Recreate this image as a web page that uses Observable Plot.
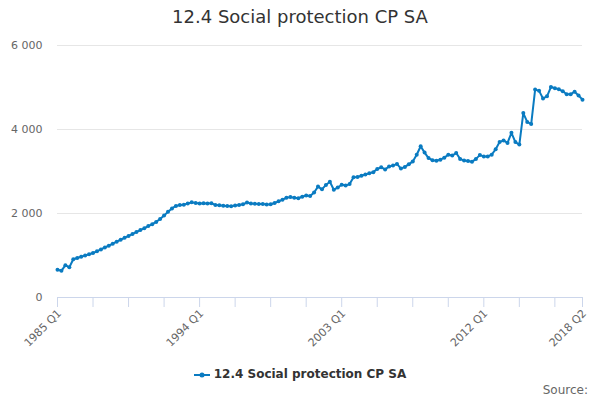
<!DOCTYPE html>
<html>
<head>
<meta charset="utf-8">
<script src="https://cdn.jsdelivr.net/npm/d3@7"></script>
<script src="https://cdn.jsdelivr.net/npm/@observablehq/plot@0.6"></script>
<style>
  html, body { margin: 0; padding: 0; background: #fff; }
  #wrap { position: relative; width: 600px; height: 400px; font-family: "DejaVu Sans", sans-serif; overflow: hidden; }
  #title { position: absolute; top: 6px; left: 0; width: 600px; text-align: center; font-size: 18px; color: #333; }
  #chart { position: absolute; top: 30px; left: 0; }
  #legend { position: absolute; top: 367px; left: 0; width: 600px; text-align: center; font-size: 12px; font-weight: bold; color: #333; }
  #legend svg { vertical-align: middle; margin-right: 4px; }
  #source { position: absolute; top: 383px; right: 12px; font-size: 12px; color: #666; }
</style>
</head>
<body>
<div id="wrap">
  <div id="title"></div>
  <div id="chart"></div>
  <div id="legend"></div>
  <div id="source">Source:</div>
</div>
<script>
const seriesName = "12.4 Social protection CP SA";
const startYear = 1985;
const values = [
  660, 635, 770, 720, 910, 940, 970, 1000, 1030, 1060,
  1100, 1145, 1190, 1235, 1280, 1330, 1375, 1420, 1465, 1510,
  1560, 1605, 1650, 1700, 1745, 1800, 1870, 1950, 2040, 2120,
  2180, 2200, 2210, 2240, 2265, 2250, 2240, 2245, 2240, 2245,
  2200, 2195, 2185, 2180, 2175, 2190, 2200, 2220, 2260, 2240,
  2230, 2225, 2225, 2215, 2220, 2250, 2290, 2330, 2375, 2390,
  2375, 2365, 2400, 2430, 2415, 2500, 2640, 2575, 2680, 2755,
  2565, 2620, 2685, 2665, 2700, 2865, 2870, 2900, 2930, 2960,
  2985, 3060, 3100, 3050, 3120, 3140, 3180, 3070, 3110, 3170,
  3240, 3400, 3600, 3450, 3320, 3270, 3255, 3280, 3330, 3400,
  3380, 3440, 3300, 3260, 3250, 3230, 3300, 3390, 3360, 3360,
  3400, 3530, 3700, 3740, 3680, 3920, 3700, 3640, 4390, 4180,
  4130, 4950, 4920, 4740, 4790, 5010, 4985, 4960, 4910, 4840,
  4840, 4900, 4810, 4710
];
const quarters = values.map((_, i) => `${startYear + Math.floor(i / 4)} Q${(i % 4) + 1}`);
const xTickLabels = ["1985 Q1", "1994 Q1", "2003 Q1", "2012 Q1", "2018 Q2"];
const yTicks = [0, 2000, 4000, 6000];

const color = "#0a7bc1";
const data = values.map((v, i) => ({ i, q: quarters[i], v }));
const lastIdx = values.length - 1;
const tickIdx = d3.range(0, lastIdx, 9).concat([lastIdx]);
const labelIdx = xTickLabels.map(l => quarters.indexOf(l));
const fmt = d => d3.format(",")(d).replace(/,/g, " ");

document.getElementById("title").textContent = seriesName;

const chart = Plot.plot({
  width: 600,
  height: 320,
  marginTop: 15,
  marginBottom: 53,
  marginLeft: 57,
  marginRight: 18,
  style: { fontFamily: "DejaVu Sans", background: "white", overflow: "visible" },
  x: { domain: [0, lastIdx], axis: null },
  y: { domain: [0, 6000], axis: null },
  marks: [
    Plot.gridY(yTicks.filter(v => v > 0), { stroke: "#e6e6e6", strokeOpacity: 1 }),
    Plot.ruleY([0], { stroke: "#ccd6eb", strokeOpacity: 1 }),
    Plot.axisY(yTicks, { tickSize: 0, tickPadding: 15, tickFormat: fmt, fill: "#666", fontSize: 11, label: null }),
    Plot.axisX(tickIdx, { tickSize: 10, tickFormat: () => "", stroke: "#ccd6eb", strokeOpacity: 1, label: null }),
    Plot.text(labelIdx, {
      x: d => d, text: d => quarters[d], frameAnchor: "bottom",
      dy: 14, dx: 2, rotate: -45, textAnchor: "end", lineAnchor: "middle",
      fill: "#666", fontSize: 11
    }),
    Plot.line(data, { x: "i", y: "v", stroke: color, strokeWidth: 2 }),
    Plot.dot(data, { x: "i", y: "v", r: 2, fill: color, stroke: "none" })
  ]
});
document.getElementById("chart").appendChild(chart);

const legend = document.getElementById("legend");
legend.innerHTML = `<svg width="16" height="12"><line x1="0" y1="6" x2="16" y2="6" stroke="${color}" stroke-width="2"/><circle cx="8" cy="6" r="2.5" fill="${color}"/></svg><span>${seriesName}</span>`;
</script>
</body>
</html>
